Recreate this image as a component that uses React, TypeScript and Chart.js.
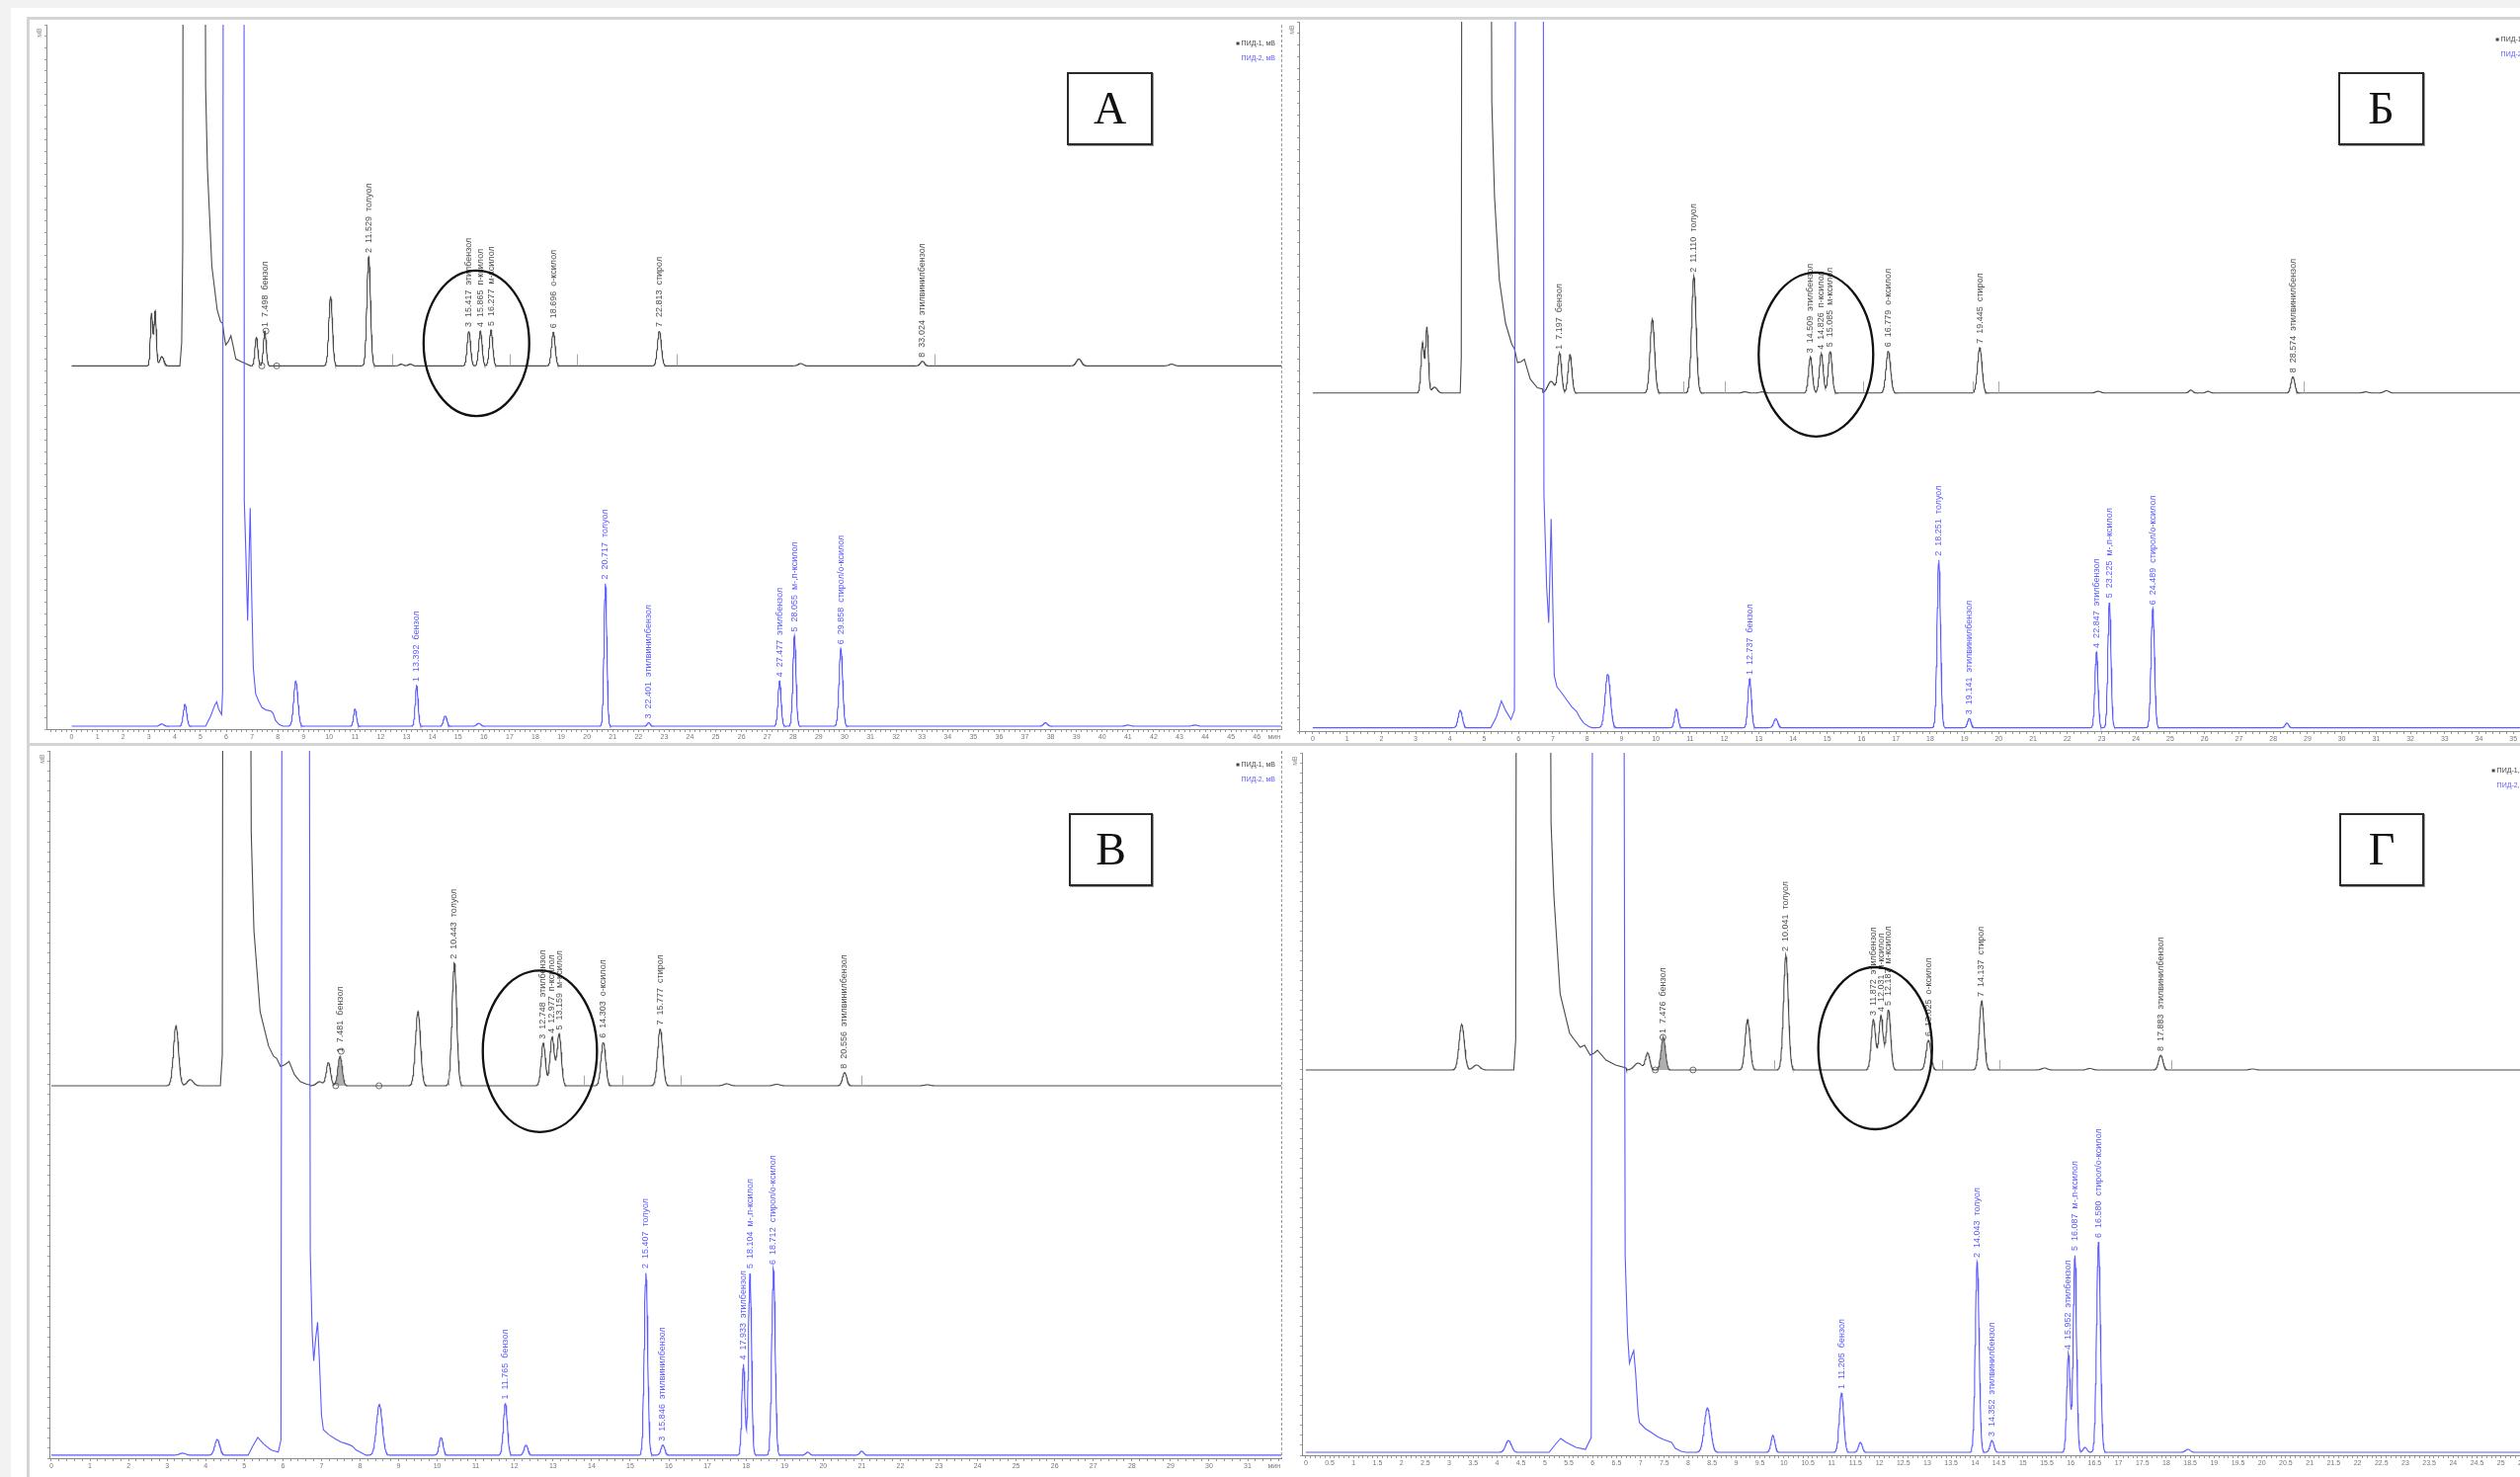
import React, { useEffect, useRef } from 'react';
import { Chart, registerables } from 'chart.js';

Chart.register(...registerables);

type Peak = [number, number, number, string?]; // retention time (min), height (mV), sigma (min), label
type Pt = [number, number]; // time, signal above the trace baseline

const FONT = '"Liberation Sans", Arial, sans-serif';
const BLACK = '#4a4a4a';
const BLACK_TXT = '#505050';
const BLUE = '#5b5bff';

// ---------------- Panel А ----------------
const A_BLACK_BASE = 0;
const A_BLACK_PEAKS: Peak[] = [
  [3.1, 4500, 0.045], [3.24, 4700, 0.045], [3.5, 800, 0.08],
  [7.17, 2500, 0.055], [7.498, 3000, 0.055, '1  7.498  бензол'],
  [10.05, 6000, 0.07], [11.529, 9400, 0.07, '2  11.529  толуол'],
  [12.8, 150, 0.08], [13.15, 150, 0.08],
  [15.417, 3000, 0.065, '3  15.417  этилбензол'],
  [15.865, 3000, 0.065, '4  15.865  п-ксилол'],
  [16.277, 3100, 0.065, '5  16.277  м-ксилол'],
  [18.696, 2900, 0.07, '6  18.696  о-ксилол'],
  [22.813, 3000, 0.075, '7  22.813  стирол'],
  [28.3, 200, 0.1], [33.024, 400, 0.08, '8  33.024  этилвинилбензол'],
  [39.1, 600, 0.1], [42.7, 150, 0.1],
];
const A_BLACK_SOLVENT: Pt[] = [
  [4.2, 0], [4.27, 2000], [4.31, 10000], [4.34, 80000], [5.13, 80000], [5.2, 24000], [5.27, 17000],
  [5.44, 8600], [5.65, 4800], [5.78, 3800], [5.85, 3700], [5.92, 2600], [5.98, 1800], [6.08, 2100],
  [6.18, 2600], [6.26, 1800], [6.37, 600], [6.6, 350], [6.75, 200], [6.95, 0],
];
const A_BLACK_MARKS = [12.45, 17.0, 19.6, 23.5, 33.5];
const A_BLUE_BASE = -31050;
const A_BLUE_PEAKS: Peak[] = [
  [3.5, 200, 0.08], [4.4, 1900, 0.065], [8.7, 3900, 0.08], [11.0, 1500, 0.055],
  [13.392, 3500, 0.055, '1  13.392  бензол'], [14.5, 900, 0.065], [15.8, 250, 0.08],
  [20.717, 12300, 0.055, '2  20.717  толуол'],
  [22.401, 300, 0.06, '3  22.401  этилвинилбензол'],
  [27.477, 3900, 0.06, '4  27.477  этилбензол'],
  [28.055, 7800, 0.06, '5  28.055  м-,п-ксилол'],
  [29.858, 6700, 0.07, '6  29.858  стирол/о-ксилол'],
  [37.8, 300, 0.08], [41.0, 100, 0.1], [43.6, 100, 0.1],
];
const A_BLUE_SOLVENT: Pt[] = [
  [5.2, 0], [5.4, 900], [5.55, 1800], [5.63, 2100], [5.7, 1500], [5.82, 1000], [5.86, 3000],
  [5.9, 120000], [6.68, 120000], [6.7, 19500], [6.76, 15000], [6.83, 9100], [6.88, 14000],
  [6.93, 18800], [6.98, 12000], [7.05, 5000], [7.14, 2800], [7.25, 2200], [7.39, 1600],
  [7.55, 1400], [7.74, 1300], [7.82, 1100], [7.91, 500], [8.05, 150], [8.2, 0],
];
const A_MARKERS: Pt[] = [[7.38, 0], [7.54, 3000], [7.96, 0]];
const A_SHADE: Pt = [0, 0];

// ---------------- Panel Б ----------------
const B_BLACK_BASE = 0;
const B_BLACK_PEAKS: Peak[] = [
  [3.2, 4300, 0.045], [3.33, 5600, 0.04], [3.55, 500, 0.08], [6.95, 1000, 0.1],
  [7.197, 3400, 0.055, '1  7.197  бензол'], [7.5, 3300, 0.055],
  [9.9, 6300, 0.065], [11.11, 10000, 0.065, '2  11.110  толуол'],
  [12.6, 100, 0.08], [13.1, 100, 0.08],
  [14.509, 3100, 0.055, '3  14.509  этилбензол'],
  [14.826, 3400, 0.055, '4  14.826  п-ксилол'],
  [15.085, 3600, 0.055, '5  15.085  м-ксилол'],
  [16.779, 3600, 0.065, '6  16.779  о-ксилол'],
  [19.445, 3900, 0.065, '7  19.445  стирол'],
  [22.9, 150, 0.08], [25.6, 250, 0.06], [26.1, 150, 0.06],
  [28.574, 1400, 0.055, '8  28.574  этилвинилбензол'],
  [30.7, 100, 0.08], [31.3, 200, 0.08],
];
const B_BLACK_SOLVENT: Pt[] = [
  [4.3, 0], [4.33, 3000], [4.36, 80000], [5.16, 80000], [5.22, 25000], [5.3, 16800], [5.44, 9700],
  [5.62, 6000], [5.8, 4200], [5.88, 3800], [5.97, 2600], [6.08, 2700], [6.17, 2900], [6.34, 1200],
  [6.55, 450], [6.7, 300],
];
const B_BLACK_MARKS = [10.8, 12.0, 16.05, 19.25, 20.0, 28.9];
const B_BLUE_BASE = -28710;
const B_BLUE_PEAKS: Peak[] = [
  [4.3, 1500, 0.06], [8.6, 4600, 0.075], [10.6, 1600, 0.05],
  [12.737, 4200, 0.05, '1  12.737  бензол'], [13.5, 760, 0.06],
  [18.251, 14400, 0.05, '2  18.251  толуол'],
  [19.141, 800, 0.05, '3  19.141  этилвинилбензол'],
  [22.847, 6500, 0.045, '4  22.847  этилбензол'],
  [23.225, 10800, 0.045, '5  23.225  м-,п-ксилол'],
  [24.489, 10200, 0.05, '6  24.489  стирол/о-ксилол'],
  [28.4, 400, 0.05],
];
const B_BLUE_SOLVENT: Pt[] = [
  [5.2, 0], [5.35, 900], [5.5, 2300], [5.62, 1500], [5.78, 700], [5.88, 1500], [5.93, 120000],
  [6.7, 120000], [6.74, 20000], [6.82, 12000], [6.88, 9000], [6.92, 14000], [6.95, 17900],
  [6.99, 12000], [7.04, 4500], [7.12, 3500], [7.23, 3100], [7.4, 2400], [7.55, 1800], [7.69, 1400],
  [7.8, 800], [7.9, 400], [8.05, 100], [8.15, 0],
];
const B_MARKERS: Pt[] = [];
const B_SHADE: Pt = [0, 0];

// ---------------- Panel В ----------------
const V_BLACK_BASE = 0;
const V_BLACK_PEAKS: Peak[] = [
  [3.23, 5900, 0.065], [3.6, 600, 0.08], [6.95, 400, 0.08],
  [7.18, 2300, 0.055], [7.481, 2900, 0.055, '1  7.481  бензол'],
  [9.5, 7300, 0.065], [10.443, 12100, 0.06, '2  10.443  толуол'],
  [12.748, 4200, 0.055, '3  12.748  этилбензол'],
  [12.977, 4800, 0.055, '4  12.977  п-ксилол'],
  [13.159, 5100, 0.055, '5  13.159  м-ксилол'],
  [14.303, 4300, 0.06, '6  14.303  о-ксилол'],
  [15.777, 5600, 0.065, '7  15.777  стирол'],
  [17.5, 200, 0.08], [18.8, 150, 0.08],
  [20.556, 1300, 0.055, '8  20.556  этилвинилбензол'], [22.7, 100, 0.08],
];
const V_BLACK_SOLVENT: Pt[] = [
  [4.4, 0], [4.43, 3000], [4.46, 90000], [5.12, 90000], [5.18, 25000], [5.25, 15300], [5.41, 7300],
  [5.63, 3900], [5.76, 2900], [5.84, 2700], [5.94, 1900], [6.06, 2100], [6.16, 2400], [6.3, 1100],
  [6.45, 400], [6.62, 150], [6.7, 100],
];
const V_BLACK_MARKS = [10.3, 13.8, 14.8, 16.3, 21.0];
const V_BLUE_BASE = -36400;
const V_BLUE_PEAKS: Peak[] = [
  [3.4, 200, 0.08], [4.3, 1550, 0.065], [8.5, 5000, 0.075], [10.1, 1750, 0.05],
  [11.765, 5100, 0.05, '1  11.765  бензол'], [12.3, 1000, 0.05],
  [15.407, 18000, 0.045, '2  15.407  толуол'],
  [15.846, 1000, 0.05, '3  15.846  этилвинилбензол'],
  [17.933, 9000, 0.04, '4  17.933  этилбензол'],
  [18.104, 18000, 0.04, '5  18.104  м-,п-ксилол'],
  [18.712, 18400, 0.045, '6  18.712  стирол/о-ксилол'],
  [19.6, 300, 0.05], [21.0, 400, 0.05],
];
const V_BLUE_SOLVENT: Pt[] = [
  [5.1, 0], [5.22, 900], [5.35, 1750], [5.5, 1100], [5.7, 500], [5.88, 300], [5.95, 1500],
  [5.99, 120000], [6.67, 120000], [6.71, 20000], [6.76, 12000], [6.8, 9300], [6.85, 11500],
  [6.9, 13100], [6.95, 9000], [7.0, 4000], [7.05, 2500], [7.2, 2000], [7.36, 1600], [7.5, 1300],
  [7.67, 1100], [7.8, 900], [7.9, 500], [8.0, 300], [8.15, 0],
];
const V_MARKERS: Pt[] = [[7.37, 0], [7.51, 3400], [8.49, 0]];
const V_SHADE: Pt = [7.37, 7.85];

// ---------------- Panel Г ----------------
const G_BLACK_BASE = 0;
const G_BLACK_PEAKS: Peak[] = [
  [3.26, 4600, 0.055], [3.57, 500, 0.07], [6.95, 700, 0.08],
  [7.15, 1700, 0.045], [7.476, 3300, 0.045, '1  7.476  бензол'],
  [9.24, 5100, 0.05], [10.041, 11600, 0.05, '2  10.041  толуол'],
  [11.872, 5100, 0.045, '3  11.872  этилбензол'],
  [12.031, 5500, 0.045, '4  12.031  п-ксилол'],
  [12.187, 6100, 0.045, '5  12.187  м-ксилол'],
  [13.025, 3000, 0.05, '6  13.025  о-ксилол'],
  [14.137, 7000, 0.05, '7  14.137  стирол'],
  [15.45, 200, 0.06], [16.4, 150, 0.06],
  [17.883, 1500, 0.045, '8  17.883  этилвинилбензол'], [19.8, 100, 0.06],
];
const G_BLACK_SOLVENT: Pt[] = [
  [4.36, 0], [4.39, 3000], [4.42, 90000], [5.08, 90000], [5.13, 25000], [5.19, 17600], [5.32, 7700],
  [5.52, 3700], [5.74, 2300], [5.83, 2500], [5.95, 1500], [6.03, 1700], [6.1, 2000], [6.28, 1000],
  [6.48, 500], [6.7, 200],
];
const G_BLACK_MARKS = [9.8, 13.3, 14.5, 18.1];
const G_BLUE_BASE = -38700;
const G_BLUE_PEAKS: Peak[] = [
  [4.24, 1200, 0.06], [8.4, 4500, 0.065], [9.77, 1700, 0.04],
  [11.205, 6000, 0.045, '1  11.205  бензол'], [11.6, 1000, 0.04],
  [14.043, 19300, 0.04, '2  14.043  толуол'],
  [14.352, 1200, 0.04, '3  14.352  этилвинилбензол'],
  [15.952, 10000, 0.035, '4  15.952  этилбензол'],
  [16.087, 20000, 0.035, '5  16.087  м-,п-ксилол'],
  [16.3, 500, 0.04],
  [16.58, 21300, 0.04, '6  16.580  стирол/о-ксилол'],
  [18.45, 300, 0.05],
];
const G_BLUE_SOLVENT: Pt[] = [
  [5.1, 0], [5.22, 800], [5.33, 1400], [5.45, 1000], [5.65, 500], [5.85, 300], [5.97, 1500],
  [6.01, 120000], [6.64, 120000], [6.68, 20000], [6.73, 12000], [6.77, 9000], [6.82, 9800],
  [6.86, 10300], [6.9, 8000], [6.95, 4000], [6.98, 3000], [7.1, 2400], [7.23, 2000], [7.35, 1600],
  [7.48, 1300], [7.65, 1000], [7.73, 400], [7.85, 100], [7.95, 0],
];
const G_MARKERS: Pt[] = [[7.31, 0], [7.47, 3300], [8.1, 0]];
const G_SHADE: Pt = [7.31, 7.75];

// circled peak groups: [time centre, signal centre, time radius, signal radius]
const A_ELLIPSE = [15.71, 1950, 2.05, 6270];
const B_ELLIPSE = [14.67, 3300, 1.67, 7030];
const V_ELLIPSE = [12.66, 3400, 1.48, 7960];
const G_ELLIPSE = [11.91, 2200, 1.19, 8200];

const LEGEND_1 = 'ПИД-1, мВ';
const LEGEND_2 = 'ПИД-2, мВ';

// ---------------- layout ----------------
interface Trace { base: number; peaks: Peak[]; solvent: Pt[] }
interface PanelCfg {
  key: string; letter: string;
  left: number; top: number; w: number; h: number; borderLeft: boolean;
  cw: number; ch: number; padTop: number; padRight: number; yAxisW: number; xAxisH: number;
  xMin: number; xMax: number; xMinor: number; xMajor: number;
  yMin: number; yMax: number;
  black: Trace; blue: Trace; markers: Pt[]; ellipse: number[]; marks: number[]; shade: Pt;
  legendDy: [number, number]; rightAxis: boolean;
  box: [number, number, number, number];
}

const PANELS: PanelCfg[] = [
  {
    key: 'A', letter: 'А', left: 27, top: 17, w: 1275, h: 735, borderLeft: true,
    cw: 1272, ch: 732, padTop: 3, padRight: 2, yAxisW: 17, xAxisH: 14,
    xMin: -0.98, xMax: 46.95, xMinor: 0.2, xMajor: 1, yMin: -31300, yMax: 29400,
    black: { base: A_BLACK_BASE, peaks: A_BLACK_PEAKS, solvent: A_BLACK_SOLVENT },
    blue: { base: A_BLUE_BASE, peaks: A_BLUE_PEAKS, solvent: A_BLUE_SOLVENT },
    markers: A_MARKERS, ellipse: A_ELLIPSE, marks: A_BLACK_MARKS, shade: A_SHADE,
    legendDy: [19, 34], rightAxis: true, box: [1080, 73, 87, 74],
  },
  {
    key: 'B', letter: 'Б', left: 1302, top: 17, w: 1249, h: 735, borderLeft: false,
    cw: 1290, ch: 732, padTop: 2, padRight: 20, yAxisW: 13, xAxisH: 12,
    xMin: -0.4, xMax: 35.8, xMinor: 0.2, xMajor: 1, yMin: -29000, yMax: 31850,
    black: { base: B_BLACK_BASE, peaks: B_BLACK_PEAKS, solvent: B_BLACK_SOLVENT },
    blue: { base: B_BLUE_BASE, peaks: B_BLUE_PEAKS, solvent: B_BLUE_SOLVENT },
    markers: B_MARKERS, ellipse: B_ELLIPSE, marks: B_BLACK_MARKS, shade: B_SHADE,
    legendDy: [18, 33], rightAxis: false, box: [2367, 73, 87, 74],
  },
  {
    key: 'V', letter: 'В', left: 27, top: 752, w: 1275, h: 743, borderLeft: true,
    cw: 1272, ch: 740, padTop: 3, padRight: 4, yAxisW: 20, xAxisH: 19,
    xMin: -0.05, xMax: 31.87, xMinor: 0.2, xMajor: 1, yMin: -36700, yMax: 33000,
    black: { base: V_BLACK_BASE, peaks: V_BLACK_PEAKS, solvent: V_BLACK_SOLVENT },
    blue: { base: V_BLUE_BASE, peaks: V_BLUE_PEAKS, solvent: V_BLUE_SOLVENT },
    markers: V_MARKERS, ellipse: V_ELLIPSE, marks: V_BLACK_MARKS, shade: V_SHADE,
    legendDy: [14, 29], rightAxis: true, box: [1082, 823, 85, 74],
  },
  {
    key: 'G', letter: 'Г', left: 1302, top: 752, w: 1249, h: 743, borderLeft: false,
    cw: 1290, ch: 740, padTop: 7, padRight: 24, yAxisW: 16, xAxisH: 22,
    xMin: -0.08, xMax: 25.75, xMinor: 0.1, xMajor: 0.5, yMin: -39000, yMax: 32100,
    black: { base: G_BLACK_BASE, peaks: G_BLACK_PEAKS, solvent: G_BLACK_SOLVENT },
    blue: { base: G_BLUE_BASE, peaks: G_BLUE_PEAKS, solvent: G_BLUE_SOLVENT },
    markers: G_MARKERS, ellipse: G_ELLIPSE, marks: G_BLACK_MARKS, shade: G_SHADE,
    legendDy: [18, 33], rightAxis: false, box: [2368, 823, 86, 74],
  },
];

function buildTrace(x0: number, x1: number, tr: Trace) {
  const step = 0.01;
  const g = (t: number) => {
    let s = 0;
    for (const p of tr.peaks) {
      const d = (t - p[0]) / p[2];
      if (d > -8 && d < 8) s += p[1] * Math.exp(-0.5 * d * d);
    }
    return s;
  };
  const s0 = tr.solvent.length ? tr.solvent[0][0] : Infinity;
  const s1 = tr.solvent.length ? tr.solvent[tr.solvent.length - 1][0] : -Infinity;
  const pts: { x: number; y: number }[] = [];
  const n = Math.round((x1 - x0) / step);
  for (let i = 0; i <= n; i++) {
    const t = x0 + i * step;
    if (t >= s0 && t <= s1) continue;
    pts.push({ x: t, y: tr.base + g(t) });
  }
  for (const [t, v] of tr.solvent) pts.push({ x: t, y: tr.base + v + g(t) });
  pts.sort((a, b) => a.x - b.x);
  return pts;
}

function isMultiple(v: number, m: number) {
  const r = v / m;
  return Math.abs(r - Math.round(r)) < 1e-6;
}

function overlay(p: PanelCfg) {
  return {
    id: 'overlay' + p.key,
    afterDatasetsDraw(chart: any) {
      const { ctx } = chart;
      const xs = chart.scales.x;
      const ys = chart.scales.y;
      ctx.save();
      // integration marks on the ПИД-1 baseline
      ctx.strokeStyle = '#a8a8a8';
      ctx.lineWidth = 1;
      const yb = ys.getPixelForValue(p.black.base);
      const yt = ys.getPixelForValue(p.black.base + 1000);
      for (const t of p.marks) {
        const px = Math.round(xs.getPixelForValue(t)) + 0.5;
        ctx.beginPath();
        ctx.moveTo(px, yb);
        ctx.lineTo(px, yt);
        ctx.stroke();
      }
      ctx.font = `9px ${FONT}`;
      ctx.textAlign = 'left';
      ctx.textBaseline = 'middle';
      const traces: [Trace, string][] = [[p.blue, BLUE], [p.black, BLACK_TXT]];
      for (const [tr, col] of traces) {
        ctx.fillStyle = col;
        for (const pk of tr.peaks) {
          if (!pk[3]) continue;
          const px = xs.getPixelForValue(pk[0]);
          const py = ys.getPixelForValue(tr.base + pk[1]);
          ctx.save();
          ctx.translate(px, py - 4);
          ctx.rotate(-Math.PI / 2);
          ctx.fillText(pk[3], 0, 0);
          ctx.restore();
        }
      }
      const e = p.ellipse;
      const cx = xs.getPixelForValue(e[0]);
      const cy = ys.getPixelForValue(e[1]);
      const rx = Math.abs(xs.getPixelForValue(e[0] + e[2]) - cx);
      const ry = Math.abs(ys.getPixelForValue(e[1] + e[3]) - cy);
      ctx.beginPath();
      ctx.ellipse(cx, cy, rx, ry, 0, 0, Math.PI * 2);
      ctx.strokeStyle = '#111';
      ctx.lineWidth = 2.3;
      ctx.stroke();
      ctx.restore();
    },
    afterDraw(chart: any) {
      const { ctx, chartArea: ca } = chart;
      const ys = chart.scales.y;
      ctx.save();
      ctx.font = `7px ${FONT}`;
      ctx.fillStyle = '#8c8c8c';
      ctx.textAlign = 'center';
      ctx.textBaseline = 'middle';
      for (const tk of ys.ticks) {
        const v = tk.value;
        if (!isMultiple(v, 5000)) continue;
        const py = ys.getPixelForValue(v);
        if (py < ca.top + 24 || py > ca.bottom - 14) continue;
        ctx.save();
        ctx.translate(ca.left - 7, py);
        ctx.rotate(-Math.PI / 2);
        ctx.fillText(String(v), 0, 0);
        ctx.restore();
      }
      ctx.save();
      ctx.translate(ca.left - 7, ca.top + 8);
      ctx.rotate(-Math.PI / 2);
      ctx.fillText('мВ', 0, 0);
      ctx.restore();
      ctx.fillStyle = '#777';
      ctx.textAlign = 'right';
      ctx.textBaseline = 'top';
      ctx.fillText('мин', ca.right - 1, ca.bottom + 5);
      if (p.rightAxis) {
        ctx.strokeStyle = '#999';
        ctx.lineWidth = 1;
        ctx.setLineDash([3, 2]);
        ctx.beginPath();
        ctx.moveTo(ca.right + 0.5, ca.top);
        ctx.lineTo(ca.right + 0.5, ca.bottom);
        ctx.stroke();
        ctx.setLineDash([]);
      }
      const lx = ca.right - 6;
      ctx.textAlign = 'right';
      ctx.textBaseline = 'middle';
      ctx.fillStyle = '#444';
      ctx.fillText(LEGEND_1, lx, ca.top + p.legendDy[0]);
      const w = ctx.measureText(LEGEND_1).width;
      ctx.fillRect(lx - w - 5, ca.top + p.legendDy[0] - 1.5, 3, 3);
      ctx.fillStyle = BLUE;
      ctx.fillText(LEGEND_2, lx, ca.top + p.legendDy[1]);
      ctx.restore();
    },
  };
}

function Panel({ p }: { p: PanelCfg }) {
  const ref = useRef<HTMLCanvasElement>(null);
  useEffect(() => {
    const black = buildTrace(0, p.xMax, p.black);
    const blue = buildTrace(0, p.xMax, p.blue);
    const shade = black.filter((d) => d.x >= p.shade[0] && d.x <= p.shade[1]);
    const markers = p.markers.map(([t, v]) => ({ x: t, y: p.black.base + v }));
    const chart = new Chart(ref.current as HTMLCanvasElement, {
      type: 'line',
      data: {
        datasets: [
          {
            data: shade, borderWidth: 0, pointRadius: 0, tension: 0,
            fill: { value: p.black.base }, backgroundColor: 'rgba(110,110,110,0.55)',
          } as any,
          { data: blue, borderColor: BLUE, borderWidth: 1.1, pointRadius: 0, tension: 0, fill: false } as any,
          { data: black, borderColor: BLACK, borderWidth: 1.1, pointRadius: 0, tension: 0, fill: false } as any,
          {
            type: 'scatter', data: markers, showLine: false, pointRadius: 3, pointStyle: 'circle',
            backgroundColor: '#ffffff', borderColor: '#6a6a6a', borderWidth: 1,
          } as any,
        ],
      },
      options: {
        animation: false,
        responsive: false,
        devicePixelRatio: 1,
        parsing: false,
        normalized: true,
        events: [],
        layout: { padding: { top: p.padTop, right: p.padRight, left: 0, bottom: 0 } },
        plugins: { legend: { display: false }, tooltip: { enabled: false }, filler: { propagate: false } },
        scales: {
          x: {
            type: 'linear', min: p.xMin, max: p.xMax,
            afterFit: (s: any) => { s.height = p.xAxisH; },
            ticks: {
              stepSize: p.xMinor, autoSkip: false, maxRotation: 0, minRotation: 0, includeBounds: false,
              font: { size: 7, family: FONT }, color: '#777', padding: 1,
              callback: (v: any) => (isMultiple(Number(v), p.xMajor) ? String(Math.round(Number(v) * 10) / 10) : ''),
            },
            grid: { display: true, drawOnChartArea: false, drawTicks: true, tickLength: 3, color: '#9a9a9a' },
            border: { display: true, color: '#8a8a8a', dash: [2, 2] },
          },
          y: {
            type: 'linear', min: p.yMin, max: p.yMax,
            afterFit: (s: any) => { s.width = p.yAxisW; },
            ticks: { display: false, stepSize: 1000, includeBounds: false },
            grid: { display: true, drawOnChartArea: false, drawTicks: true, tickLength: 2, color: '#a0a0a0' },
            border: { display: true, color: '#8a8a8a', dash: [3, 2] },
          },
        },
      } as any,
      plugins: [overlay(p) as any],
    });
    return () => chart.destroy();
  }, [p]);
  return (
    <div
      style={{
        position: 'absolute', left: p.left, top: p.top, width: p.w, height: p.h, overflow: 'hidden',
        boxSizing: 'border-box', background: '#fff', borderTop: '3px solid #d4d4d4',
        borderLeft: p.borderLeft ? '3px solid #d4d4d4' : 'none',
      }}
    >
      <canvas ref={ref} width={p.cw} height={p.ch} style={{ display: 'block' }} />
    </div>
  );
}

export default function App() {
  useEffect(() => {
    document.body.style.margin = '0';
    document.body.style.overflow = 'hidden';
  }, []);
  return (
    <div style={{ position: 'fixed', left: 0, top: 0, width: 2551, height: 1495, overflow: 'hidden', background: '#f2f2f2' }}>
      <div style={{ position: 'absolute', left: 11, top: 8, width: 2540, height: 1487, background: '#fff' }} />
      {PANELS.map((p) => (
        <Panel key={p.key} p={p} />
      ))}
      {PANELS.map((p) => (
        <div
          key={'box' + p.key}
          style={{
            position: 'absolute', left: p.box[0], top: p.box[1], width: p.box[2], height: p.box[3],
            boxSizing: 'border-box', border: '2px solid #2a2a2a', boxShadow: '1px 1px 0 #9a9a9a',
            background: '#fff', display: 'flex', alignItems: 'center', justifyContent: 'center',
            fontFamily: '"Liberation Serif", "DejaVu Serif", serif', fontSize: 46, color: '#111', lineHeight: 1,
          }}
        >
          {p.letter}
        </div>
      ))}
    </div>
  );
}
